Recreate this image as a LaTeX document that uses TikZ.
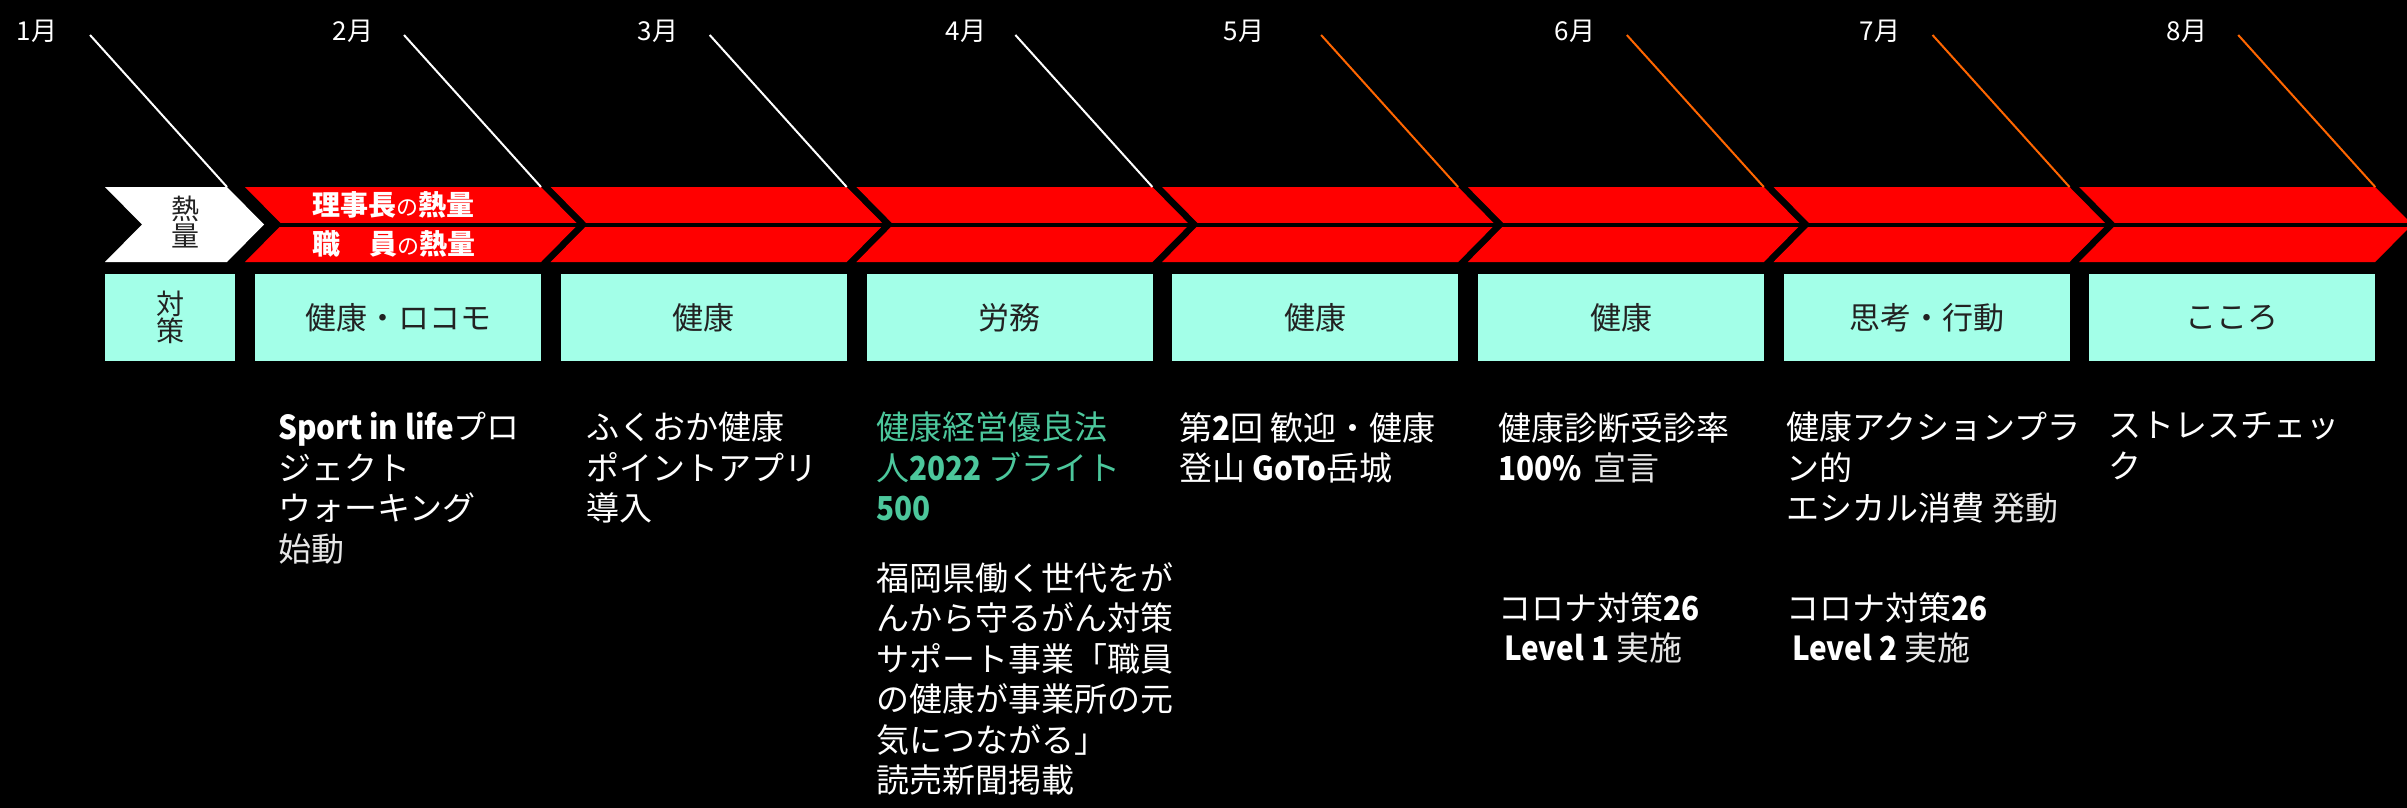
\documentclass[tikz,border=0pt]{standalone}
\usepackage{fontspec}
\usetikzlibrary{calc}
\setmainfont{Noto Sans CJK JP}
\newfontfamily\latb{Noto Sans CJK JP}[FakeStretch=0.9]
\definecolor{bandred}{HTML}{FF0000}
\definecolor{boxcyan}{HTML}{A3FFE8}
\definecolor{lineorange}{HTML}{FF6600}
\definecolor{jgreen}{HTML}{4CC79C}
\definecolor{boxtext}{HTML}{222222}
\definecolor{softwhite}{HTML}{E6E6E6}
\tikzset{
  monthlabel/.style={text=white,font=\fontsize{26}{30}\selectfont,inner sep=0pt},
  wline/.style={draw=white,line width=2pt},
  oline/.style={draw=lineorange,line width=2pt},
  chev/.style={fill=bandred,draw=none},
  catbox/.style={fill=boxcyan,draw=none,minimum height=87pt,inner sep=0pt,
    text=boxtext,font=\fontsize{31}{34}\selectfont},
  bandtext/.style={text=white,font=\bfseries\fontsize{28}{30}\selectfont,inner sep=0pt,anchor=base west},
  events/.style={text=white,font=\fontsize{33}{40.5}\selectfont,align=left,inner sep=0pt,anchor=north west},
}
\newcommand{\bl}[1]{{\latb\bfseries #1}}
\newcommand{\lt}[1]{{\color{softwhite}#1}}
\begin{document}
\begin{tikzpicture}[x=1pt,y=-1pt]
\fill[black] (0,0) rectangle (2407,808);
\useasboundingbox (0,0) rectangle (2407,808);
\clip (0,0) rectangle (2407,808);
% month labels
\node[monthlabel] (m1) at (37,31) {1月};
\node[monthlabel] (m2) at (353,31) {2月};
\node[monthlabel] (m3) at (658,31) {3月};
\node[monthlabel] (m4) at (966,31) {4月};
\node[monthlabel] (m5) at (1244,31) {5月};
\node[monthlabel] (m6) at (1575,31) {6月};
\node[monthlabel] (m7) at (1880,31) {7月};
\node[monthlabel] (m8) at (2187,31) {8月};
% white chevron
\fill[white] (105,187) -- (227,187) -- (264,224.5) -- (227,262) -- (105,262) -- (142,224.5) -- cycle;
\coordinate (e0) at (227,187);
\node[text=boxtext,font=\fontsize{28}{27}\selectfont,align=center,inner sep=0pt] (netsu) at (185,222) {熱\\量};
% red chevrons
\foreach \i in {0,...,6}{
  \pgfmathsetmacro{\L}{245+305.7*\i}
  \pgfmathsetmacro{\R}{541+305.7*\i}
  \fill[chev] (\L,187) -- (\R,187) -- ({\R+37},224.5) -- (\R,262) -- (\L,262) -- ({\L+37},224.5) -- cycle;
  \coordinate (e\the\numexpr\i+1\relax) at (\R,187);
}
\fill[black] (270,222.5) rectangle (2407,226.5);
% line starts
\foreach \j in {0,...,7}{
  \coordinate (s\j) at ($(e\j)+(-137,-152)$);
}
\draw[wline] (s0) -- (e0);
\draw[wline] (s1) -- (e1);
\draw[wline] (s2) -- (e2);
\draw[wline] (s3) -- (e3);
\draw[oline] (s4) -- (e4);
\draw[oline] (s5) -- (e5);
\draw[oline] (s6) -- (e6);
\draw[oline] (s7) -- (e7);
% band text
\node[bandtext] (b1) at (312,215) {理事長{\mdseries\fontsize{22}{24}\selectfont の}熱量};
\node[bandtext] (b2) at (312,254) {職\hspace{29pt}員{\mdseries\fontsize{22}{24}\selectfont の}熱量};
% category boxes
\node[catbox,minimum width=130pt,anchor=north west,align=center,font=\fontsize{28}{27}\selectfont] (c0) at (105,274) {対\\策};
\node[catbox,minimum width=286pt,anchor=north west] (c1) at (255,274) {健康・ロコモ};
\node[catbox,minimum width=286pt,anchor=north west] (c2) at (560.7,274) {健康};
\node[catbox,minimum width=286pt,anchor=north west] (c3) at (866.4,274) {労務};
\node[catbox,minimum width=286pt,anchor=north west] (c4) at (1172.1,274) {健康};
\node[catbox,minimum width=286pt,anchor=north west] (c5) at (1477.8,274) {健康};
\node[catbox,minimum width=286pt,anchor=north west] (c6) at (1783.5,274) {思考・行動};
\node[catbox,minimum width=286pt,anchor=north west] (c7) at (2089.2,274) {こころ};
% event texts
\node[events] (t1) at (278,412) {\bl{Sport in life}プロ\\ジェクト\\ウォーキング\\\lt{始動}};
\node[events] (t2) at (586,412) {ふくおか健康\\ポイントアプリ\\導入};
\node[events,text=jgreen] (t3a) at (876,412) {健康経営優良法\\人\bl{2022} ブライト\\\bl{500}};
\node[events] (t3b) at (876,562) {福岡県働く世代をが\\んから守るがん対策\\サポート事業「職員\\の健康が事業所の元\\気につながる」\\読売新聞掲載};
\node[events] (t4) at (1179,412) {第\bl{2}回 歓迎・健康\\登山 \bl{GoTo}岳城};
\node[events] (t5a) at (1498,412) {健康診断受診率\\\bl{100\%}\hspace{12pt}\lt{宣言}};
\node[events] (t5b) at (1498,592) {コロナ対策\bl{26}\\\hspace{6pt}\bl{Level 1} \lt{実施}};
\node[events] (t6a) at (1786,412) {健康アクションプラ\\ン的\\エシカル消費\hspace{8pt}\lt{発動}};
\node[events] (t6b) at (1786,592) {コロナ対策\bl{26}\\\hspace{6pt}\bl{Level 2} \lt{実施}};
\node[events] (t7) at (2108,412) {ストレスチェッ\\ク};
\end{tikzpicture}
\end{document}
